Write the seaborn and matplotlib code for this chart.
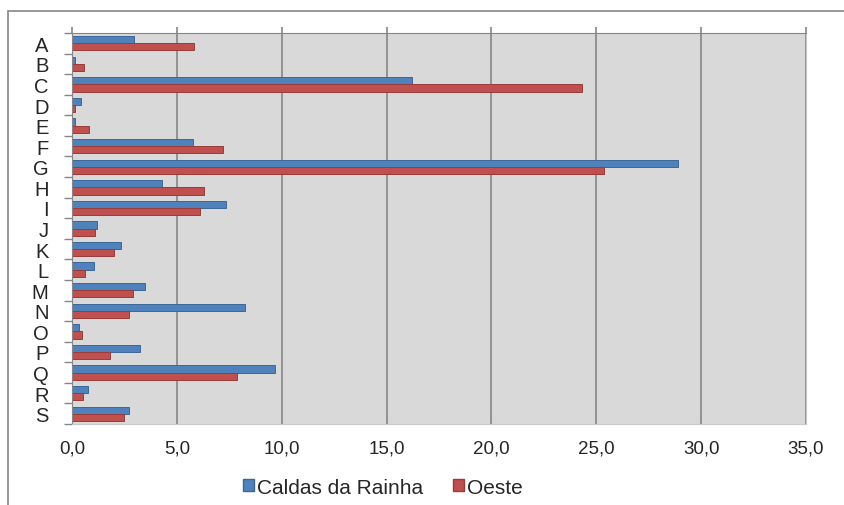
import seaborn as sns
import matplotlib.pyplot as plt
import matplotlib.ticker as mticker
from matplotlib.patches import Rectangle
import pandas as pd
import numpy as np

# Values
categories = ['A', 'B', 'C', 'D', 'E', 'F', 'G', 'H', 'I', 'J',
              'K', 'L', 'M', 'N', 'O', 'P', 'Q', 'R', 'S']
caldas = [2.96, 0.15, 16.2, 0.44, 0.15, 5.76, 28.9, 4.30, 7.33, 1.21,
          2.32, 1.03, 3.47, 8.23, 0.31, 3.24, 9.68, 0.75, 2.73]
oeste = [5.84, 0.59, 24.3, 0.13, 0.82, 7.18, 25.35, 6.30, 6.10, 1.11,
         2.01, 0.62, 2.91, 2.70, 0.46, 1.80, 7.87, 0.54, 2.47]
series = ['Caldas da Rainha', 'Oeste']
colors = ['#4F81BD', '#C0504D']
edges = ['#3A6699', '#9A3B38']

# Long-form table for seaborn
df = pd.DataFrame({
    'Cat': categories * 2,
    'Serie': [series[0]] * len(categories) + [series[1]] * len(categories),
    'Valor': caldas + oeste,
})

sns.set_style('white')
plt.rcParams['font.family'] = ['Liberation Sans', 'DejaVu Sans']

fig = plt.figure(figsize=(8.45, 5.06), dpi=100)
ax = fig.add_axes([72 / 845, 1 - 425 / 506, (806 - 72) / 845, (425 - 34) / 506])

sns.barplot(data=df, y='Cat', x='Valor', hue='Serie', order=categories,
            hue_order=series, palette=colors, orient='h', width=0.7,
            saturation=1, ax=ax, legend=True)

# Edge colours per series
for cont, ec in zip(ax.containers, edges):
    for bar in cont:
        bar.set_edgecolor(ec)
        bar.set_linewidth(0.7)

ax.set_facecolor('#D9D9D9')
ax.set_xlim(0, 35)
ax.set_ylim(len(categories) - 0.5, -0.5)
ax.set_xticks(np.arange(0, 36, 5))
ax.xaxis.set_major_formatter(mticker.FuncFormatter(lambda v, p: f'{v:.1f}'.replace('.', ',')))
ax.grid(axis='x', color='#868686', linewidth=1.2)
ax.set_axisbelow(True)
ax.set_xlabel('')
ax.set_ylabel('')

ax.spines['left'].set_color('#868686')
ax.spines['top'].set_color('#868686')
ax.spines['bottom'].set_color('#C8C8C8')
ax.spines['right'].set_color('#C8C8C8')

# tick marks between categories, labels at centres
ax.set_yticks(np.arange(len(categories) + 1) - 0.5, minor=True)
ax.tick_params(axis='y', which='minor', length=6, color='#868686', width=1, left=True)
ax.tick_params(axis='y', which='major', length=0, pad=17, labelsize=14.5)
ax.tick_params(axis='x', which='major', length=0, pad=7, labelsize=13.5)
ax.tick_params(axis='x', which='minor', length=0)

# small ticks above the plot at gridlines
ax.tick_params(axis='x', top=True, length=4, color='#868686', width=1.2, labeltop=False)

leg = ax.legend(loc='center', bbox_to_anchor=((383 - 72) / 734, -(488 - 425) / 391),
                ncol=2, frameon=False, fontsize=15, handlelength=0.55,
                handleheight=0.55, handletextpad=0.15, columnspacing=1.4)
for h, ec in zip(leg.legend_handles, edges):
    h.set_edgecolor(ec)

# outer chart border
fig.patches.append(Rectangle((8 / 845, -0.1), 1.2, (506 - 12) / 506 + 0.1,
                             transform=fig.transFigure, fill=False,
                             edgecolor='#868686', linewidth=1.2))

fig.savefig('out.png', dpi=100)
